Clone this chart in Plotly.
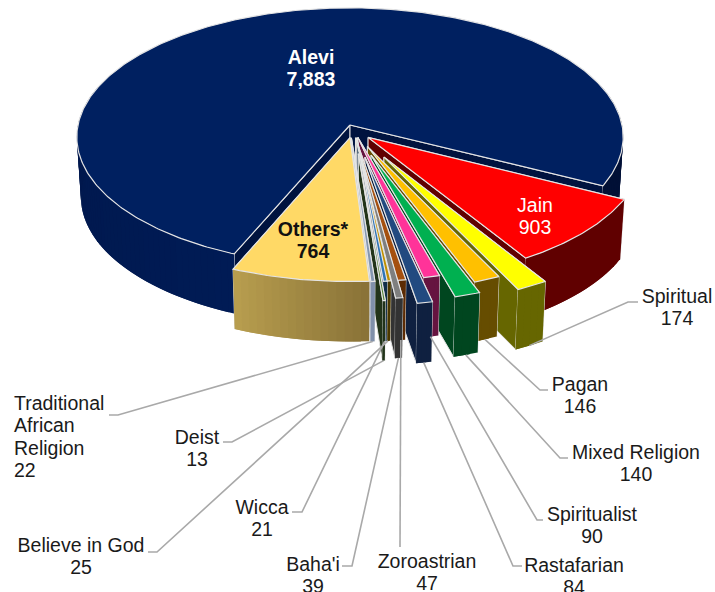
import numpy as np
import plotly.graph_objects as go

# clockwise from the Alevi slice
religions = ["Alevi", "Jain", "Spiritual", "Pagan", "Mixed Religion", "Spiritualist", "Rastafarian",
             "Zoroastrian", "Baha'i", "Believe in God", "Wicca", "Deist", "Traditional African Religion", "Others*"]
counts = [7883, 903, 174, 146, 140, 90, 84, 47, 39, 25, 21, 13, 22, 764]

# how far each slice is pulled out, sideways and towards the viewer
pull_u = [0, 0.066, 0.122, 0.063, 0.076, 0.029, 0.054, 0.020, 0.036, 0.022, 0.025, 0.030, 0.005, 0.0]
pull_v = [0, 0.096, 0.245, 0.164, 0.230, 0.097, 0.247, 0.100, 0.208, 0.100, 0.100, 0.220, 0.100, 0.098]

top_colors = ["#002060", "#ff0000", "#ffff00", "#ffc000", "#00b050", "#ff3399", "#224a80",
              "#a5500f", "#7f7f7f", "#bf9000", "#2e75b6", "#548235", "#8497b0", "#ffd966"]
wall_from = ["#001b55", "#600000", "#666600", "#664d00", "#00461f", "#661440", "#0f2040",
             "#5c2b04", "#333333", "#4c3900", "#122f49", "#22341a", "#8090aa", "#8a7338"]
wall_to = ["#001035", "#600000", "#666600", "#664d00", "#00461f", "#661440", "#0f2040",
           "#5c2b04", "#333333", "#4c3900", "#122f49", "#22341a", "#8090aa", "#b79d4e"]

# label text anchor (pixel centre of the first line) and leader elbow
label_xy = {
    "Spiritual": (677, 296), "Pagan": (580, 384), "Mixed Religion": (636, 452), "Spiritualist": (592, 514),
    "Rastafarian": (574, 565), "Zoroastrian": (427, 561), "Baha'i": (313, 564), "Believe in God": (81, 545),
    "Wicca": (262, 507), "Deist": (197, 437),
}
leader_path = {
    "Spiritual": [(638, 302), (628, 302)], "Pagan": [(548, 390), (540, 390)],
    "Mixed Religion": [(568, 458), (560, 458)], "Spiritualist": [(543, 520), (537, 520)],
    "Rastafarian": [(522, 566), (513, 566)], "Zoroastrian": [(400, 547)], "Baha'i": [(342, 566), (352, 566)],
    "Believe in God": [(148, 552), (157, 552)], "Wicca": [(292, 512), (302, 512)], "Deist": [(223, 442), (232, 442)],
    "Traditional African Religion": [(109, 415), (118, 415)],
}

CX, CY = 350, 125
AX, AY, K = 272, 128, 0.093
DEPTH, BOTTOM_SCALE = 60, 0.985
START = 202.9
EDGE = "#e4e4e4"
LEADER = "#a9a9a9"
FONT = "Liberation Sans, Arial, sans-serif"
TEXT_SIZE = 19.5
LINE_STEP = 22.5
TEXT_DROP = 2


def project(u, v, bottom=False):
    w = 1 - K * v
    x = CX + AX * u / w
    y = CY + AY * v / w
    if bottom:
        x = CX + (x - CX) * BOTTOM_SCALE
        y = y + DEPTH
    return x, y


def hex_rgb(c):
    return np.array([int(c[i:i + 2], 16) for i in (1, 3, 5)], dtype=float)


def mix(a, b, t):
    r, g, bl = hex_rgb(a) * (1 - t) + hex_rgb(b) * t
    return f"rgb({r:.0f},{g:.0f},{bl:.0f})"


def add_poly(fig, x, y, fill, line=None, width=1.0):
    fig.add_trace(go.Scatter(
        x=np.r_[x, x[0]], y=np.r_[y, y[0]], mode="lines", fill="toself", fillcolor=fill,
        line=dict(color=line or fill, width=width if line else 0), hoverinfo="skip", showlegend=False,
    ))


def add_lines(x, y, lines, color, bold=False, anchor="middle center"):
    fig.add_trace(go.Scatter(
        x=[x] * len(lines), y=[y + TEXT_DROP + k * LINE_STEP for k in range(len(lines))], mode="text",
        text=[f"<b>{line}</b>" if bold else line for line in lines], textposition=anchor,
        textfont=dict(family=FONT, size=TEXT_SIZE, color=color), cliponaxis=False,
        hoverinfo="skip", showlegend=False,
    ))


sweeps = 360 * np.array(counts) / sum(counts)
starts = (START + np.r_[0, np.cumsum(sweeps)[:-1]]) % 360
bisectors = (starts + sweeps / 2) % 360

fig = go.Figure()


def arc_uv(i, n):
    a = np.radians(np.linspace(starts[i], starts[i] + sweeps[i], n))
    return pull_u[i] + np.sin(a), pull_v[i] - np.cos(a)


def draw_walls(i):
    u, v = arc_uv(i, max(8, int(sweeps[i] * 1.5)))
    tx, ty = project(u, v)
    bx, by = project(u, v, True)
    ax, ay = project(pull_u[i], pull_v[i])
    abx, aby = project(pull_u[i], pull_v[i], True)

    # cut faces
    side = "#00133f" if i == 0 else wall_from[i]
    for k in (0, -1):
        add_poly(fig, np.array([ax, tx[k], bx[k], abx]), np.array([ay, ty[k], by[k], aby]), side, EDGE, 1.0)

    # rim, in bands so the shading can run along it; each band runs under the next to hide the seams
    n = max(4, int(sweeps[i] / 1.5) + 1)
    ru, rv = arc_uv(i, n)
    rx, ry = project(ru, rv)
    sx, sy = project(ru, rv, True)
    for k in range(n - 1):
        if rv[k] < -0.3 and rv[k + 1] < -0.3:
            continue
        e = min(k + 2, n - 1)
        add_poly(fig, np.array([rx[k], *rx[k + 1:e + 1], *sx[k + 1:e + 1][::-1], sx[k]]),
                 np.array([ry[k], *ry[k + 1:e + 1], *sy[k + 1:e + 1][::-1], sy[k]]),
                 mix(wall_from[i], wall_to[i], k / (n - 2)))


def draw_top(i):
    u, v = arc_uv(i, max(8, int(sweeps[i] * 1.5)))
    tx, ty = project(u, v)
    ax, ay = project(pull_u[i], pull_v[i])
    add_poly(fig, np.r_[ax, tx], np.r_[ay, ty], top_colors[i], EDGE, 1.2)


order = [0] + sorted(range(1, len(counts) - 1), key=lambda j: -abs(bisectors[j] - 180))
# Others sits in front of the thin slices next to it
for i in order + [13]:
    draw_walls(i)
# all tops lie in one plane, so they go over every wall
for i in order + [13]:
    draw_top(i)

# leader lines end on the bottom rim of their slice
for name, elbow in leader_path.items():
    i = religions.index(name)
    a = np.radians(bisectors[i])
    ex, ey = project(pull_u[i] + np.sin(a), pull_v[i] - np.cos(a), True)
    xs = [p[0] for p in elbow] + [ex]
    ys = [p[1] for p in elbow] + [ey]
    fig.add_trace(go.Scatter(x=xs, y=ys, mode="lines", line=dict(color=LEADER, width=1.6),
                             hoverinfo="skip", showlegend=False))

# outside labels
for name, (x, y) in label_xy.items():
    add_lines(x, y, [name, f"{counts[religions.index(name)]:,}"], "#1a1a1a")

add_lines(14, 403, ["Traditional", "African", "Religion", str(counts[12])], "#1a1a1a", anchor="middle right")

# labels on the slices
add_lines(311, 57, ["Alevi", f"{counts[0]:,}"], "#ffffff", bold=True)
add_lines(535, 205, ["Jain", f"{counts[1]:,}"], "#ffffff")
add_lines(313, 229, ["Others*", f"{counts[13]:,}"], "#111111", bold=True)

fig.update_layout(
    width=715, height=592, margin=dict(l=0, r=0, t=0, b=0),
    paper_bgcolor="white", plot_bgcolor="white",
    xaxis=dict(range=[0, 715], visible=False, fixedrange=True),
    yaxis=dict(range=[592, 0], visible=False, fixedrange=True),
    showlegend=False,
)

# drop the default body margin so the figure fills the window without scrollbars
fig.write_html("out.html", config={"displayModeBar": False}, post_script="document.body.style.margin = '0';")
